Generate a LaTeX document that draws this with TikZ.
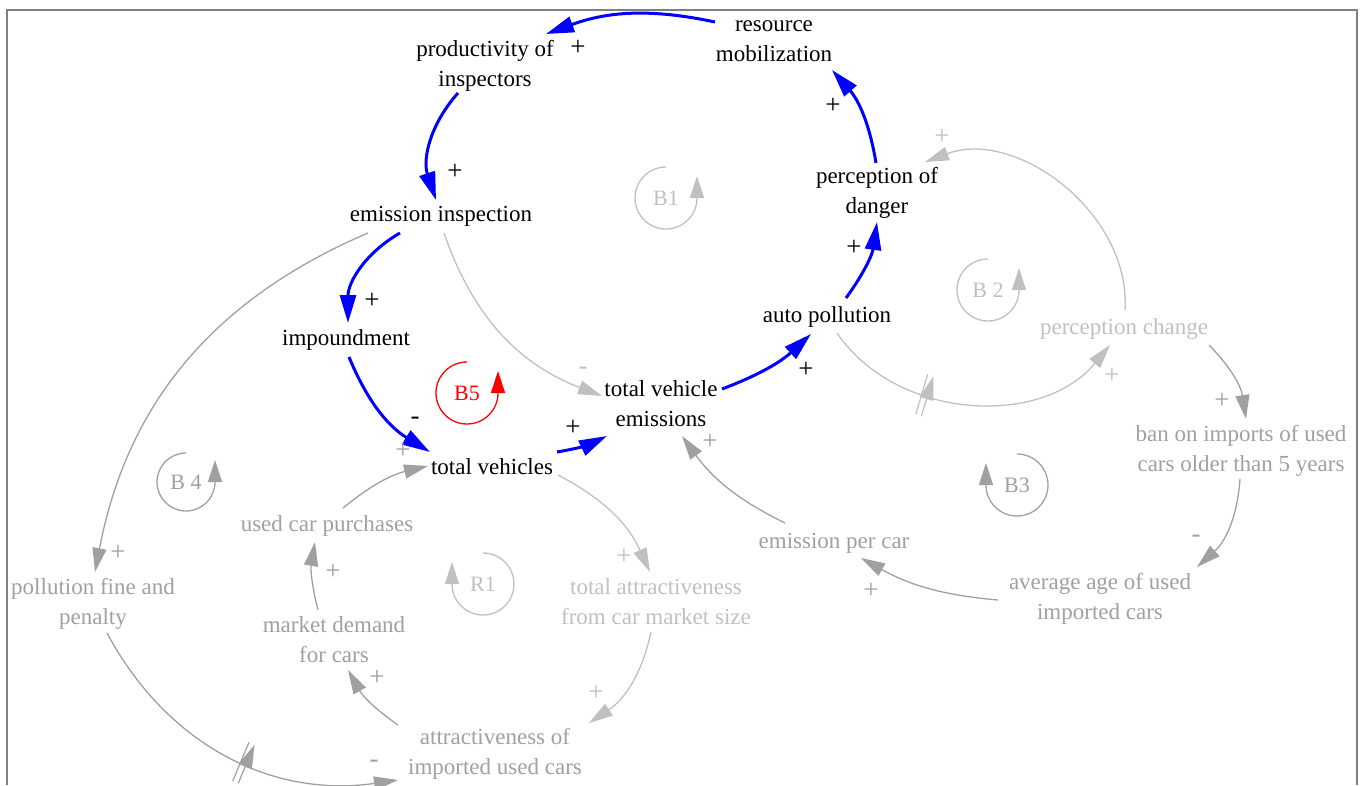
\documentclass[tikz,border=0pt]{standalone}
\usepackage{fontspec}
\setmainfont{Liberation Serif}
\usetikzlibrary{arrows.meta,calc,decorations.markings}
\definecolor{dgray}{RGB}{160,160,160}
\definecolor{lgray}{RGB}{192,192,192}
\definecolor{framegray}{RGB}{128,128,128}
\begin{document}
\begin{tikzpicture}[x=1pt,y=1pt,
  var/.style={inner sep=0pt, align=center, font=\fontsize{23}{30}\selectfont},
  pol/.style={inner sep=0pt, font=\fontsize{27}{30}\selectfont},
  looptxt/.style={inner sep=0pt, font=\fontsize{22}{26}\selectfont},
  mainlink/.style={draw=blue, line width=3pt, -{Triangle[length=28pt,width=16pt]}},
  dlink/.style={draw=dgray, line width=1.3pt, -{Triangle[length=24pt,width=14pt]}},
  llink/.style={draw=lgray, line width=1.3pt, -{Triangle[length=24pt,width=14pt]}},
  loopline/.style={line width=1.3pt, -{Triangle[length=22pt,width=14pt]}},
  delaymark/.style={postaction={decorate}, decoration={markings,
     mark=at position #1 with {\draw[line width=1.2pt] (-3,-21)--(-3,21) (3,-21)--(3,21);}}}
]
\useasboundingbox (0,0) rectangle (1366,-785);
% frame
\draw[framegray, line width=1.3pt] (7,-785) -- (7,-10) -- (1357,-10) -- (1357,-785);

% variables of the main loop
\node[var] (res)  at (774,-40)  {\strut resource\\\strut mobilization};
\node[var] (prod) at (485,-65)  {\strut productivity of\\\strut inspectors};
\node[var] (insp) at (441,-215) {\strut emission inspection};
\node[var] (imp)  at (346,-339) {\strut impoundment};
\node[var] (tv)   at (492,-468) {\strut total vehicles};
\node[var] (tve)  at (661,-405) {\strut total vehicle\\\strut emissions};
\node[var] (ap)   at (827,-316) {\strut auto pollution};
\node[var] (pod)  at (877,-192) {\strut perception of\\\strut danger};

% other variables
\node[var, text=lgray] (pc)  at (1124,-328) {\strut perception change};
\node[var, text=dgray] (ban) at (1241,-450) {\strut ban on imports of used\\\strut cars older than 5 years};
\node[var, text=dgray] (age) at (1100,-598) {\strut average age of used\\\strut imported cars};
\node[var, text=dgray] (epc) at (834,-542)  {\strut emission per car};
\node[var, text=lgray] (ta)  at (656,-603)  {\strut total attractiveness\\\strut from car market size};
\node[var, text=dgray] (aiu) at (495,-753)  {\strut attractiveness of\\\strut imported used cars};
\node[var, text=dgray] (mdc) at (334,-641)  {\strut market demand\\\strut for cars};
\node[var, text=dgray] (ucp) at (327,-525)  {\strut used car purchases};
\node[var, text=dgray] (pfp) at (93,-603)   {\strut pollution fine and\\\strut penalty};

% main balancing loop (B5)
\draw[mainlink] ($(res)+(-59,18)$) to[bend right=16] ($(prod)+(61,31)$);
\draw[mainlink] ($(prod)+(-27,-28)$) to[bend right=30] ($(insp)+(-5,15)$);
\draw[mainlink] ($(insp)+(-41,-18)$) to[bend right=30] ($(imp)+(2,16)$);
\draw[mainlink] ($(imp)+(3,-18)$) to[bend right=18] ($(tv)+(-62,16)$);
\draw[mainlink] ($(tv)+(65,16)$) to[bend right=8] ($(tve)+(-54,-31)$);
\draw[mainlink] ($(tve)+(61,16)$) to[bend right=11] ($(ap)+(-16,-18)$);
\draw[mainlink] ($(ap)+(19,18)$) to[bend right=14] ($(pod)+(0,-30)$);
\draw[mainlink] ($(pod)+(-1,29)$) to[bend right=16] ($(res)+(58,-30)$);

% remaining links
\draw[dlink] ($(insp)+(-73,-18)$) to[bend right=28] ($(pfp)+(2,31)$);
\draw[dlink, delaymark=0.55] ($(pfp)+(14,-30)$) to[bend right=35] ($(aiu)+(-97,-27)$);
\draw[dlink] ($(aiu)+(-97,28)$) to[bend left=13] ($(mdc)+(14,-29)$);
\draw[dlink] ($(mdc)+(-16,31)$) to[bend left=12] ($(ucp)+(-12,-17)$);
\draw[dlink] ($(ucp)+(16,17)$) to[bend left=13] ($(tv)+(-64,2)$);
\draw[llink] ($(tv)+(66,-7)$) to[bend left=19] ($(ta)+(-6,31)$);
\draw[llink] ($(ta)+(-5,-29)$) to[bend left=22] ($(aiu)+(94,30)$);
\draw[llink] ($(insp)+(3,-18)$) to[bend right=25] ($(tve)+(-59,9)$);
\draw[dlink] ($(epc)+(-49,19)$) to[bend left=14] ($(tve)+(21,-31)$);
\draw[dlink] ($(age)+(-102,-2)$) to[bend left=12] ($(epc)+(27,-16)$);
\draw[dlink] ($(ban)+(-1,-29)$) to[bend left=22] ($(age)+(97,31)$);
\draw[dlink] ($(pc)+(85,-17)$) to[bend left=18] ($(ban)+(5,31)$);
\draw[llink, delaymark=0.35] ($(ap)+(10,-17)$) to[bend right=53] ($(pc)+(-14,-17)$);
\draw[llink] ($(pc)+(1,18)$) to[bend right=57] ($(pod)+(48,30)$);

% link polarities
\node[pol] (s1) at (578,-48)  {+};
\node[pol] (s2) at (455,-172) {+};
\node[pol] (s3) at (372,-301) {+};
\node[pol] (s4) at (415,-421) {-};
\node[pol] (s5) at (573,-428) {+};
\node[pol] (s6) at (806,-370) {+};
\node[pol] (s7) at (854,-248) {+};
\node[pol] (s8) at (833,-106) {+};
\node[pol, text=dgray] (s9)  at (118,-553)  {+};
\node[pol, text=dgray] (s10) at (374,-764)  {-};
\node[pol, text=dgray] (s11) at (377,-678)  {+};
\node[pol, text=dgray] (s12) at (333,-572)  {+};
\node[pol, text=dgray] (s13) at (403,-451)  {+};
\node[pol, text=dgray] (s14) at (710,-442)  {+};
\node[pol, text=dgray] (s15) at (871,-591)  {+};
\node[pol, text=dgray] (s16) at (1196,-539) {-};
\node[pol, text=dgray] (s17) at (1222,-401) {+};
\node[pol, text=lgray] (s18) at (624,-557)  {+};
\node[pol, text=lgray] (s19) at (596,-693)  {+};
\node[pol, text=lgray] (s20) at (583,-371)  {-};
\node[pol, text=lgray] (s21) at (1112,-376) {+};
\node[pol, text=lgray] (s22) at (942,-137)  {+};

% loop identifiers
\node[looptxt, text=lgray] (b1) at (666,-198) {B1};
\draw[loopline, lgray] ($(b1)+(0,31)$) arc[start angle=90, end angle=360, radius=31pt] -- ++(0,22);
\node[looptxt, text=lgray] (b2) at (988,-290) {B 2};
\draw[loopline, lgray] ($(b2)+(0,31)$) arc[start angle=90, end angle=360, radius=31pt] -- ++(0,22);
\node[looptxt, text=dgray] (b3) at (1017,-485) {B3};
\draw[loopline, dgray] ($(b3)+(0,31)$) arc[start angle=90, end angle=-180, radius=31pt] -- ++(0,22);
\node[looptxt, text=dgray] (b4) at (186,-482) {B 4};
\draw[loopline, dgray] ($(b4)+(0,29)$) arc[start angle=90, end angle=360, radius=29pt] -- ++(0,22);
\node[looptxt, text=red] (b5) at (467,-393) {B5};
\draw[loopline, red] ($(b5)+(0,31)$) arc[start angle=90, end angle=360, radius=31pt] -- ++(0,22);
\node[looptxt, text=lgray] (r1) at (483,-584) {R1};
\draw[loopline, lgray] ($(r1)+(0,31)$) arc[start angle=90, end angle=-180, radius=31pt] -- ++(0,22);
\end{tikzpicture}
\end{document}
